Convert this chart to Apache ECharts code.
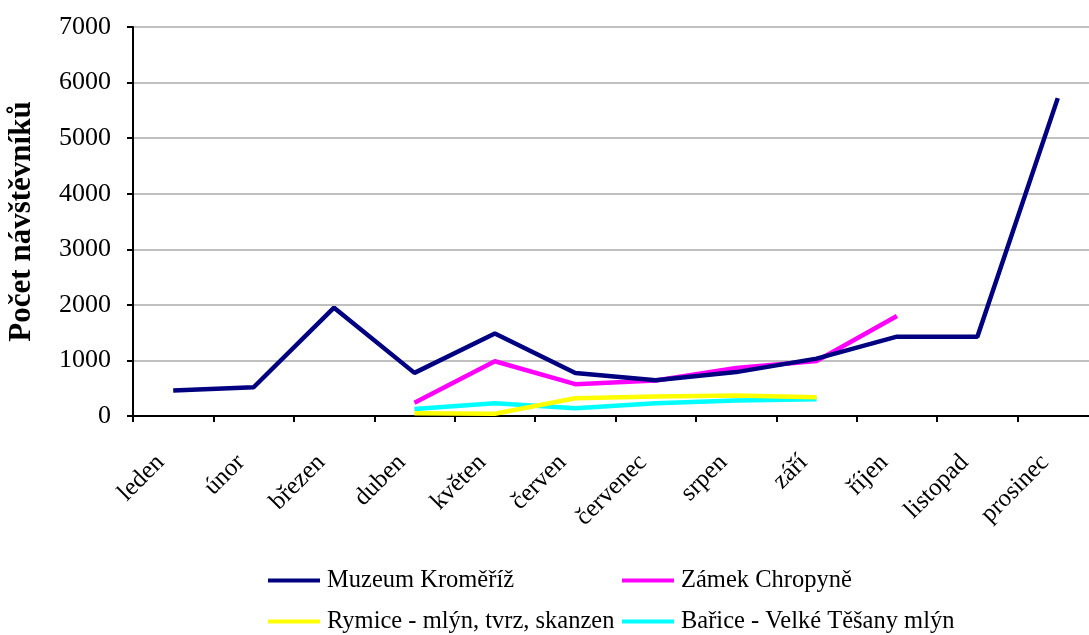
<!DOCTYPE html>
<html>
<head>
<meta charset="utf-8">
<script src="https://cdn.jsdelivr.net/npm/echarts@6/dist/echarts.min.js"></script>
<style>html,body{margin:0;padding:0;background:#fff}#c{width:1089px;height:635px}</style>
</head>
<body>
<div id="c"></div>
<script>
const months = ['leden','únor','březen','duben','květen','červen','červenec','srpen','září','říjen','listopad','prosinec'];
const muzeumKromeriz = [457, 517, 1950, 776, 1485, 772, 645, 790, 1033, 1427, 1427, 5720];
const zamekChropyne = [null, null, null, 240, 985, 573, 640, 862, 990, 1800, null, null];
const rymice = [null, null, null, 48, 40, 320, 350, 367, 338, null, null, null];
const barice = [null, null, null, 127, 230, 139, 230, 277, 302, null, null, null];
const yTicks = [0, 1000, 2000, 3000, 4000, 5000, 6000, 7000];
const seriesNames = ['Muzeum Kroměříž', 'Zámek Chropyně', 'Rymice - mlýn, tvrz, skanzen', 'Bařice - Velké Těšany mlýn'];
const colors = ['#000080', '#FF00FF', '#FFFF00', '#00FFFF'];

const FONT = '"Liberation Serif", "DejaVu Serif", serif';
const chart = echarts.init(document.getElementById('c'), null, {renderer: 'canvas'});
const seriesData = [muzeumKromeriz, zamekChropyne, rymice, barice];
const legendPos = [[268, 568], [622, 568], [268, 609], [622, 609]];

chart.setOption({
  animation: false,
  backgroundColor: '#fff',
  color: colors,
  grid: {left: 133, top: 27, bottom: 219, right: -9, containLabel: false, outerBoundsMode: 'none'},
  legend: seriesNames.map((n, i) => ({
    data: [n],
    left: legendPos[i][0],
    top: legendPos[i][1],
    icon: 'rect',
    itemWidth: 52,
    itemHeight: 4,
    padding: 0,
    textStyle: {fontFamily: FONT, fontSize: 24.5, color: '#000', padding: [0, 0, 0, 2]}
  })),
  xAxis: {
    type: 'category',
    data: months,
    boundaryGap: true,
    axisLine: {lineStyle: {color: '#000', width: 2}},
    axisTick: {show: true, inside: false, length: 6, alignWithLabel: false, lineStyle: {color: '#000', width: 2}},
    axisLabel: {
      rotate: 45, interval: 0, margin: 30, padding: [0, 18, 0, 0],
      fontFamily: FONT, fontSize: 25, color: '#000'
    },
    splitLine: {show: false}
  },
  yAxis: {
    type: 'value',
    min: yTicks[0],
    max: yTicks[yTicks.length - 1],
    interval: 1000,
    name: 'Počet návštěvníků',
    nameLocation: 'middle',
    nameGap: 96,
    nameTextStyle: {fontFamily: FONT, fontWeight: 'bold', fontSize: 31, color: '#000'},
    axisLine: {show: true, lineStyle: {color: '#000', width: 2}},
    axisTick: {show: true, inside: false, length: 6, lineStyle: {color: '#000', width: 2}},
    axisLabel: {fontFamily: FONT, fontSize: 26, color: '#000', margin: 22, formatter: v => String(v)},
    splitLine: {show: true, lineStyle: {color: '#c0c0c0', width: 2}}
  },
  series: seriesNames.map((n, i) => ({
    name: n,
    type: 'line',
    data: seriesData[i],
    symbol: 'none',
    connectNulls: false,
    lineStyle: {width: 4.5, color: colors[i]},
    itemStyle: {color: colors[i]},
    z: 10 - i
  }))
});
</script>
</body>
</html>
